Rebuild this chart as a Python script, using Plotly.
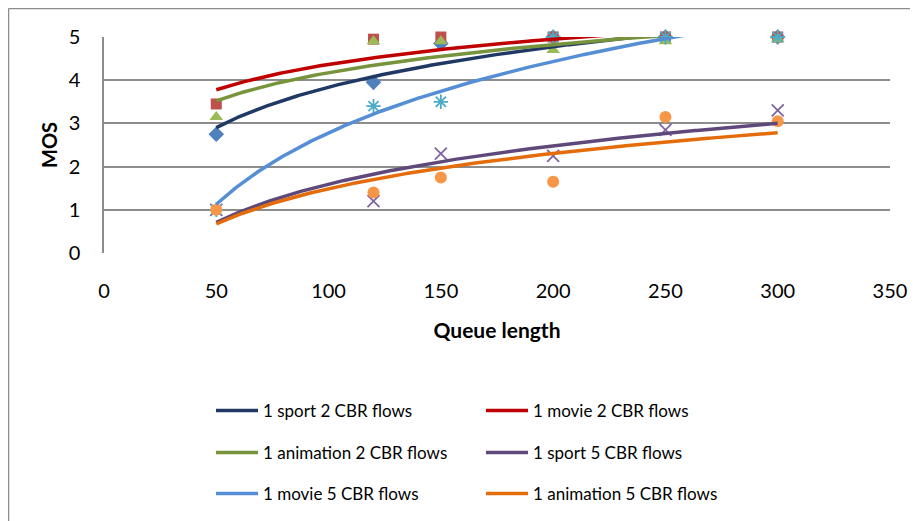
import numpy as np
import plotly.graph_objects as go

queue_length = [50, 120, 150, 200, 250, 300]

series_names = [
    "1 sport 2 CBR flows",
    "1 movie 2 CBR flows",
    "1 animation 2 CBR flows",
    "1 sport 5 CBR flows",
    "1 movie 5 CBR flows",
    "1 animation 5 CBR flows",
]

sport_2cbr = [2.75, 3.95, 4.85, 5.0, 5.0, 5.0]
movie_2cbr = [3.45, 4.95, 5.0, 5.0, 5.0, 5.0]
animation_2cbr = [3.15, 4.9, 4.9, 4.7, 4.9, 4.95]
sport_5cbr = [1.0, 1.2, 2.3, 2.25, 2.85, 3.3]
movie_5cbr = [1.0, 3.4, 3.5, 5.0, 5.0, 5.0]
animation_5cbr = [1.0, 1.4, 1.75, 1.65, 3.15, 3.05]

series_values = [sport_2cbr, movie_2cbr, animation_2cbr, sport_5cbr, movie_5cbr, animation_5cbr]

x_ticks = [0, 50, 100, 150, 200, 250, 300, 350]
y_ticks = [0, 1, 2, 3, 4, 5]

marker_colors = ["#4F81BD", "#C0504D", "#9BBB59", "#8064A2", "#4BACC6", "#F79646"]
marker_symbols = ["diamond", "square", "triangle-up", "x-thin-open", "asterisk-open", "circle"]
marker_sizes = [12, 11, 12, 12, 12, 12]
line_colors = ["#1F3864", "#C00000", "#77933C", "#5F497A", "#558ED5", "#E46C0A"]
legend_ids = ["legend", "legend", "legend2", "legend2", "legend3", "legend3"]

FONT = "Lato"
fig = go.Figure()

# markers
for i, vals in enumerate(series_values):
    sym = marker_symbols[i]
    open_sym = sym.endswith("open")
    fig.add_trace(go.Scatter(
        x=queue_length, y=vals, mode="markers", showlegend=False,
        cliponaxis=False,
        marker=dict(symbol=sym, size=marker_sizes[i], color=marker_colors[i],
                    line=dict(color=marker_colors[i], width=1.8 if open_sym else 0)),
        hoverinfo="skip",
    ))

# logarithmic trendlines (least squares on ln x), like Excel
xs = np.linspace(min(queue_length), max(queue_length), 300)
for i, vals in enumerate(series_values):
    a, b = np.polyfit(np.log(queue_length), vals, 1)
    fig.add_trace(go.Scatter(
        x=xs, y=a * np.log(xs) + b, mode="lines", name=series_names[i],
        line=dict(color=line_colors[i], width=3.5),
        legend=legend_ids[i],
    ))

# page body has an 8px margin; figure coordinates below are relative to the figure
W, H = 910, 513
L, R, T, B = 96, 882, 29, 245
pw, ph = R - L, B - T

def px(xp):
    return (xp - L) / pw

def py(yp):
    return (B - yp) / ph

leg_common = dict(
    orientation="h", entrywidth=213, entrywidthmode="pixels", itemwidth=42,
    font=dict(family=FONT, size=17, color="#000000"), bgcolor="rgba(0,0,0,0)",
    xanchor="left", yanchor="middle", x=px(203), itemclick=False, itemdoubleclick=False,
)

fig.update_layout(
    width=W, height=H,
    margin=dict(l=L, r=W - R, t=T, b=H - B, autoexpand=False),
    paper_bgcolor="white", plot_bgcolor="white",
    font=dict(family=FONT, size=20, color="#000000"),
    xaxis=dict(
        range=[0, 350], tickvals=x_ticks, showgrid=False, zeroline=False,
        showline=False, ticks="", ticklabelstandoff=24,
        title=dict(text="<b>Queue length</b>", standoff=22, font=dict(family=FONT, size=21)),
    ),
    yaxis=dict(
        range=[0, 5], tickvals=y_ticks, showgrid=True, gridcolor="#8C8C8C", gridwidth=1.5,
        zeroline=False, showline=True, linecolor="#8C8C8C", linewidth=1.5, ticks="",
        ticklabelstandoff=18,
        title=dict(text="<b>MOS</b>", standoff=6, font=dict(family=FONT, size=20)),
    ),
    legend=dict(**leg_common, y=py(403)),
    legend2=dict(**leg_common, y=py(445)),
    legend3=dict(**leg_common, y=py(486)),
    shapes=[
        dict(type="line", xref="paper", yref="paper", x0=px(0.5), x1=px(W), y0=py(0.5), y1=py(0.5),
             line=dict(color="#8C8C8C", width=1.5)),
        dict(type="line", xref="paper", yref="paper", x0=px(0.5), x1=px(0.5), y0=py(0.5), y1=py(H),
             line=dict(color="#8C8C8C", width=1.5)),
    ],
)

fig.write_html("out.html")
